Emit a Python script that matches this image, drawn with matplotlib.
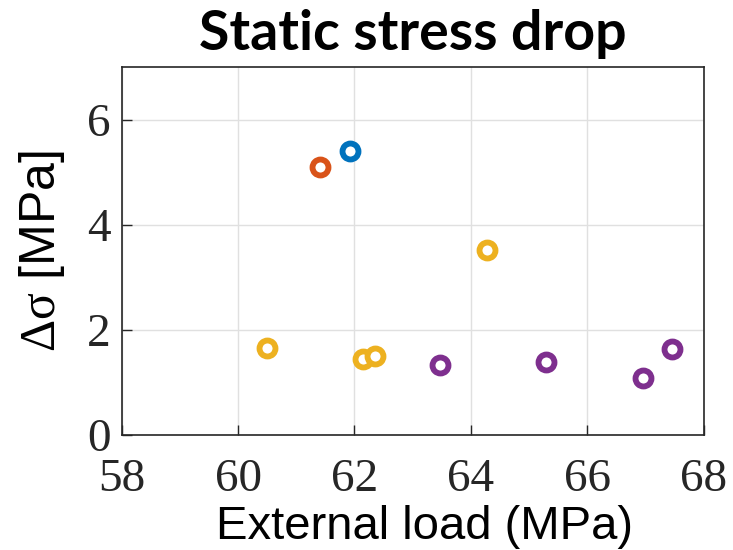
import numpy as np
import matplotlib.pyplot as plt

plt.rcParams['mathtext.fontset'] = 'custom'
plt.rcParams['mathtext.rm'] = 'Liberation Serif'
plt.rcParams['mathtext.it'] = 'Liberation Serif'

# data
blue_x = [61.92]
blue_y = [5.41]
orange_x = [61.41]
orange_y = [5.10]
yellow_x = [60.50, 62.14, 62.35, 64.28]
yellow_y = [1.66, 1.45, 1.50, 3.52]
purple_x = [63.47, 65.29, 66.96, 67.46]
purple_y = [1.33, 1.39, 1.09, 1.64]

series = [
    (blue_x, blue_y, '#0072BD'),
    (orange_x, orange_y, '#D95319'),
    (yellow_x, yellow_y, '#EDB120'),
    (purple_x, purple_y, '#7E2F8E'),
]

fig = plt.figure(figsize=(7.33, 5.5), dpi=100)
ax = fig.add_axes([0.166, 0.209, 0.794, 0.669])

for xs, ys, c in series:
    ax.plot(xs, ys, 'o', ms=11.5, mfc='white', mec=c, mew=4.2, zorder=3)

ax.set_xlim(58, 68)
ax.set_ylim(0, 7)
ax.set_xticks(np.arange(58, 69, 2))
ax.set_yticks(np.arange(0, 7, 2))
ax.grid(True, color='#e0e0e0', lw=1)
ax.set_axisbelow(True)

for s in ax.spines.values():
    s.set_color('#262626')
    s.set_linewidth(1.2)

ax.tick_params(direction='in', length=7, width=1, color='#262626', labelsize=34)
ax.tick_params(axis='x', pad=17)
ax.tick_params(axis='y', pad=8)
for lab in ax.get_xticklabels() + ax.get_yticklabels():
    lab.set_family('Liberation Serif')
    lab.set_color('#262626')

ax.set_xlabel('External load (MPa)', family='Liberation Sans', fontsize=34, labelpad=0)
ax.xaxis.set_label_coords(0.52, -0.19)
ax.set_ylabel(r'$\Delta\sigma$ [MPa]', family='Liberation Sans', fontsize=36, labelpad=14)
ax.set_title('Static stress drop', family='Lato', fontweight='bold', fontsize=40, pad=12)

fig.savefig('out.png', dpi=100)
